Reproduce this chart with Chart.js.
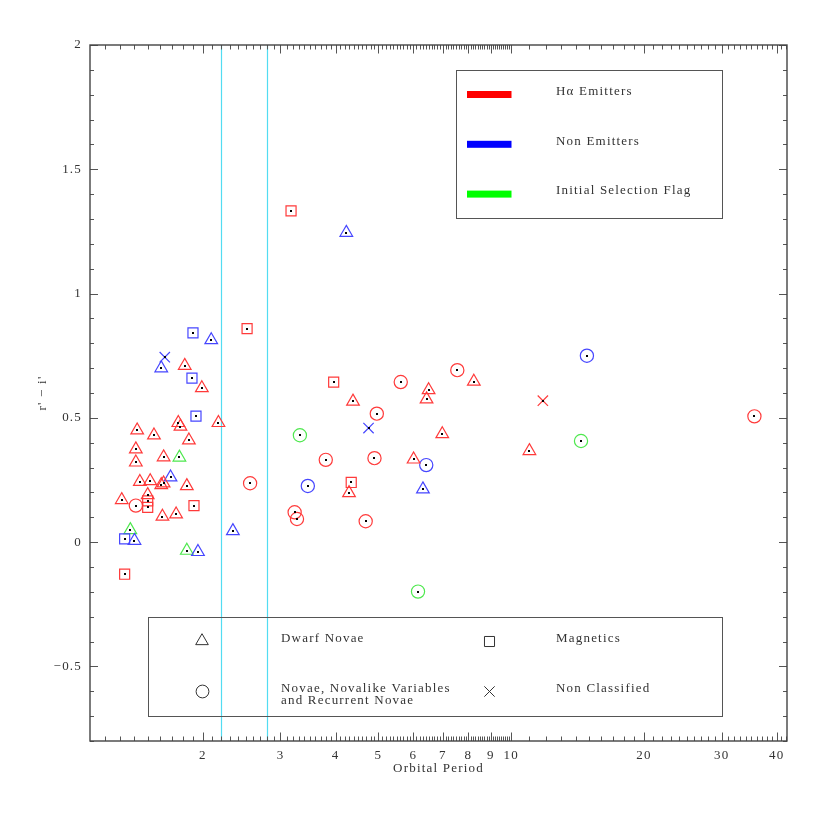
<!DOCTYPE html>
<html><head><meta charset="utf-8">
<script src="https://cdn.jsdelivr.net/npm/chart.js@4.4.1/dist/chart.umd.min.js"></script>
<style>html,body{margin:0;padding:0;background:#fff}#wrap{width:830px;height:830px}canvas{display:block}</style>
</head><body>
<div id="wrap"><canvas id="c" width="830" height="830"></canvas></div>
<script>
// [orbital period (h), r' - i']
const haDwarfNovae = [[2.17,0.48],[1.82,0.71],[1.99,0.62],[1.76,0.48],[1.78,0.465],[1.86,0.41],[1.42,0.45],[1.55,0.43],[1.41,0.374],[1.41,0.321],[1.63,0.342],[1.44,0.243],[1.52,0.246],[1.61,0.23],[1.63,0.237],[1.84,0.226],[1.31,0.17],[1.50,0.19],[1.62,0.103],[1.74,0.112],[4.38,0.566],[6.50,0.612],[6.43,0.575],[8.23,0.646],[6.98,0.435],[6.01,0.333],[4.29,0.198],[11.0,0.367]];
const haMagnetics = [[3.17,1.333],[2.52,0.859],[3.96,0.644],[4.34,0.24],[1.50,0.166],[1.50,0.14],[1.91,0.147],[1.33,-0.129]];
const haNovae = [[1.41,0.147],[2.56,0.237],[3.80,0.331],[3.23,0.12],[3.27,0.093],[4.68,0.084],[4.90,0.338],[4.96,0.517],[5.62,0.644],[7.55,0.692],[35.6,0.506]];
const haUnclassified = [[11.8,0.569]];
const nonDwarfNovae = [[4.23,1.245],[2.09,0.813],[1.61,0.70],[1.69,0.261],[1.40,0.006],[2.34,0.045],[1.95,-0.039],[6.31,0.213]];
const nonMagnetics = [[1.90,0.842],[1.89,0.66],[1.93,0.507],[1.33,0.013]];
const nonNovae = [[3.46,0.226],[6.42,0.31],[14.85,0.75]];
const nonUnclassified = [[1.64,0.744],[4.75,0.459]];
const flagDwarfNovae = [[1.77,0.341],[1.37,0.049],[1.84,-0.034]];
const flagNovae = [[3.32,0.43],[14.4,0.407],[6.15,-0.199]];
const periodGap = [2.2, 2.8];
const xTickValues = [2,3,4,5,6,7,8,9,10,20,30,40];
const yTickValues = [-0.5,0,0.5,1,1.5,2];
const colourLegend = ['H\u03b1 Emitters','Non Emitters','Initial Selection Flag'];

const RED = '#ff3a3a', BLUE = '#4646ff', GREEN = '#4ee84e', INK = '#333';
const BAR_COLOURS = ['#ff0000', '#0000ff', '#00ff00'];
const FONT = "'Liberation Serif', serif";
const shapes = {
  triangle: {pointStyle:'triangle', r:7.3},
  rect: {pointStyle:'rect', r:7.1},
  circle: {pointStyle:'circle', r:6.6},
  crossRot: {pointStyle:'crossRot', r:7.3}
};
function ds(data, colour, shape) {
  const s = shapes[shape];
  return {
    data: data.map(p => ({x:p[0], y:p[1]})),
    pointStyle: s.pointStyle, pointRadius: s.r, pointHoverRadius: s.r,
    borderColor: colour, backgroundColor: 'rgba(0,0,0,0)', pointBorderWidth: 1.2,
    showLine: false
  };
}
const datasets = [
  ds(haDwarfNovae, RED, 'triangle'), ds(haMagnetics, RED, 'rect'), ds(haNovae, RED, 'circle'), ds(haUnclassified, RED, 'crossRot'),
  ds(nonDwarfNovae, BLUE, 'triangle'), ds(nonMagnetics, BLUE, 'rect'), ds(nonNovae, BLUE, 'circle'), ds(nonUnclassified, BLUE, 'crossRot'),
  ds(flagDwarfNovae, GREEN, 'triangle'), ds(flagNovae, GREEN, 'circle')
];

const decor = {
  id: 'decor',
  beforeDraw(chart) { chart.ctx.letterSpacing = '1.2px'; },
  beforeDatasetsDraw(chart) {
    const {ctx, chartArea: a, scales: {x}} = chart;
    ctx.save();
    ctx.strokeStyle = '#52dcf2'; ctx.lineWidth = 1.2;
    periodGap.forEach(p => {
      const px = Math.round(x.getPixelForValue(p)) + 0.5;
      ctx.beginPath(); ctx.moveTo(px, a.top); ctx.lineTo(px, a.bottom); ctx.stroke();
    });
    ctx.restore();
  },
  afterDatasetsDraw(chart) {
    const {ctx, chartArea: a, scales: {x, y}} = chart;
    ctx.save();
    ctx.fillStyle = '#000';
    chart.data.datasets.forEach((d, i) => {
      chart.getDatasetMeta(i).data.forEach(pt => ctx.fillRect(Math.round(pt.x) - 1, Math.round(pt.y) - 1, 2, 2));
    });
    // ticks
    ctx.strokeStyle = '#555'; ctx.lineWidth = 1;
    ctx.beginPath();
    const xt = [];
    for (let k = 11; k <= 100; k++) xt.push({v: k / 10, major: k % 10 === 0});
    for (let k = 11; k <= 100; k++) xt.push({v: k, major: k % 10 === 0});
    xt.forEach(t => {
      if (t.v < x.min || t.v > x.max) return;
      const px = Math.round(x.getPixelForValue(t.v)) + 0.5;
      const L = t.major ? 8.5 : 4.5;
      ctx.moveTo(px, a.bottom); ctx.lineTo(px, a.bottom - L);
      ctx.moveTo(px, a.top); ctx.lineTo(px, a.top + L);
    });
    for (let k = -8; k <= 20; k++) {
      const py = Math.round(y.getPixelForValue(k / 10)) + 0.5;
      const L = k % 5 === 0 ? 8 : 4;
      ctx.moveTo(a.left, py); ctx.lineTo(a.left + L, py);
      ctx.moveTo(a.right, py); ctx.lineTo(a.right - L, py);
    }
    ctx.stroke();
    // frame
    ctx.strokeStyle = '#444'; ctx.lineWidth = 1.4;
    ctx.strokeRect(a.left, a.top, a.right - a.left, a.bottom - a.top);

    // colour legend
    const L0 = a.left, T0 = a.top;
    ctx.lineWidth = 1; ctx.strokeStyle = '#555';
    ctx.strokeRect(L0 + 366.5, T0 + 25.5, 266, 148);
    ctx.font = '13px ' + FONT; ctx.fillStyle = INK; ctx.textBaseline = 'alphabetic'; ctx.textAlign = 'left';
    colourLegend.forEach((t, i) => {
      ctx.fillStyle = BAR_COLOURS[i];
      ctx.fillRect(L0 + 377, T0 + 46 + 49.8 * i, 44.5, 7);
      ctx.fillStyle = INK;
      ctx.fillText(t, L0 + 466, T0 + 50 + 49.7 * i);
    });
    // type legend
    ctx.strokeRect(L0 + 58.5, T0 + 572.5, 574, 99);
    ctx.strokeStyle = INK;
    const sym = [['triangle', 7.3, 112, 596], ['rect', 7.1, 399.5, 596.5], ['circle', 6.4, 112.5, 646.5], ['crossRot', 7.3, 399.5, 646.5]];
    sym.forEach(s => {
      ctx.fillStyle = 'rgba(0,0,0,0)';
      Chart.helpers.drawPoint(ctx, {pointStyle: s[0], radius: s[1], rotation: 0, borderWidth: 1}, L0 + s[2], T0 + s[3]);
    });
    ctx.fillStyle = INK;
    ctx.fillText('Dwarf Novae', L0 + 191, T0 + 597.3);
    ctx.fillText('Magnetics', L0 + 466, T0 + 597.3);
    ctx.fillText('Novae, Novalike Variables', L0 + 191, T0 + 647.3);
    ctx.fillText('and Recurrent Novae', L0 + 191, T0 + 659);
    ctx.fillText('Non Classified', L0 + 466, T0 + 647.3);
    ctx.restore();
  }
};

new Chart(document.getElementById('c'), {
  type: 'scatter',
  data: { datasets },
  plugins: [decor],
  options: {
    responsive: false, animation: false, events: [],
    layout: { padding: { top: 45, right: 43, bottom: 0, left: 0 } },
    plugins: { legend: { display: false }, tooltip: { enabled: false } },
    scales: {
      x: {
        type: 'logarithmic', min: 1.11, max: 42.2,
        grid: { display: false, drawTicks: false }, border: { display: false },
        afterBuildTicks: s => { s.ticks = xTickValues.map(v => ({ value: v })); },
        afterFit: s => { s.height = 89; },
        ticks: { autoSkip: false, maxRotation: 0, padding: 7, color: INK, font: { family: FONT, size: 13 }, callback: v => String(v) },
        title: { display: true, text: 'Orbital Period', color: INK, font: { family: FONT, size: 13 }, padding: { top: 0, bottom: 54 } }
      },
      y: {
        min: -0.8, max: 2,
        grid: { display: false, drawTicks: false }, border: { display: false },
        afterBuildTicks: s => { s.ticks = yTickValues.map(v => ({ value: v })); },
        afterFit: s => { s.width = 90; },
        ticks: { padding: 8, color: INK, font: { family: FONT, size: 13 }, callback: v => (v < 0 ? '\u2212' + Math.abs(v) : String(v)) },
        title: { display: true, text: "r' \u2212 i'", color: INK, font: { family: FONT, size: 13 }, padding: { top: 35, bottom: 0 } }
      }
    }
  }
});
</script>
</body></html>
